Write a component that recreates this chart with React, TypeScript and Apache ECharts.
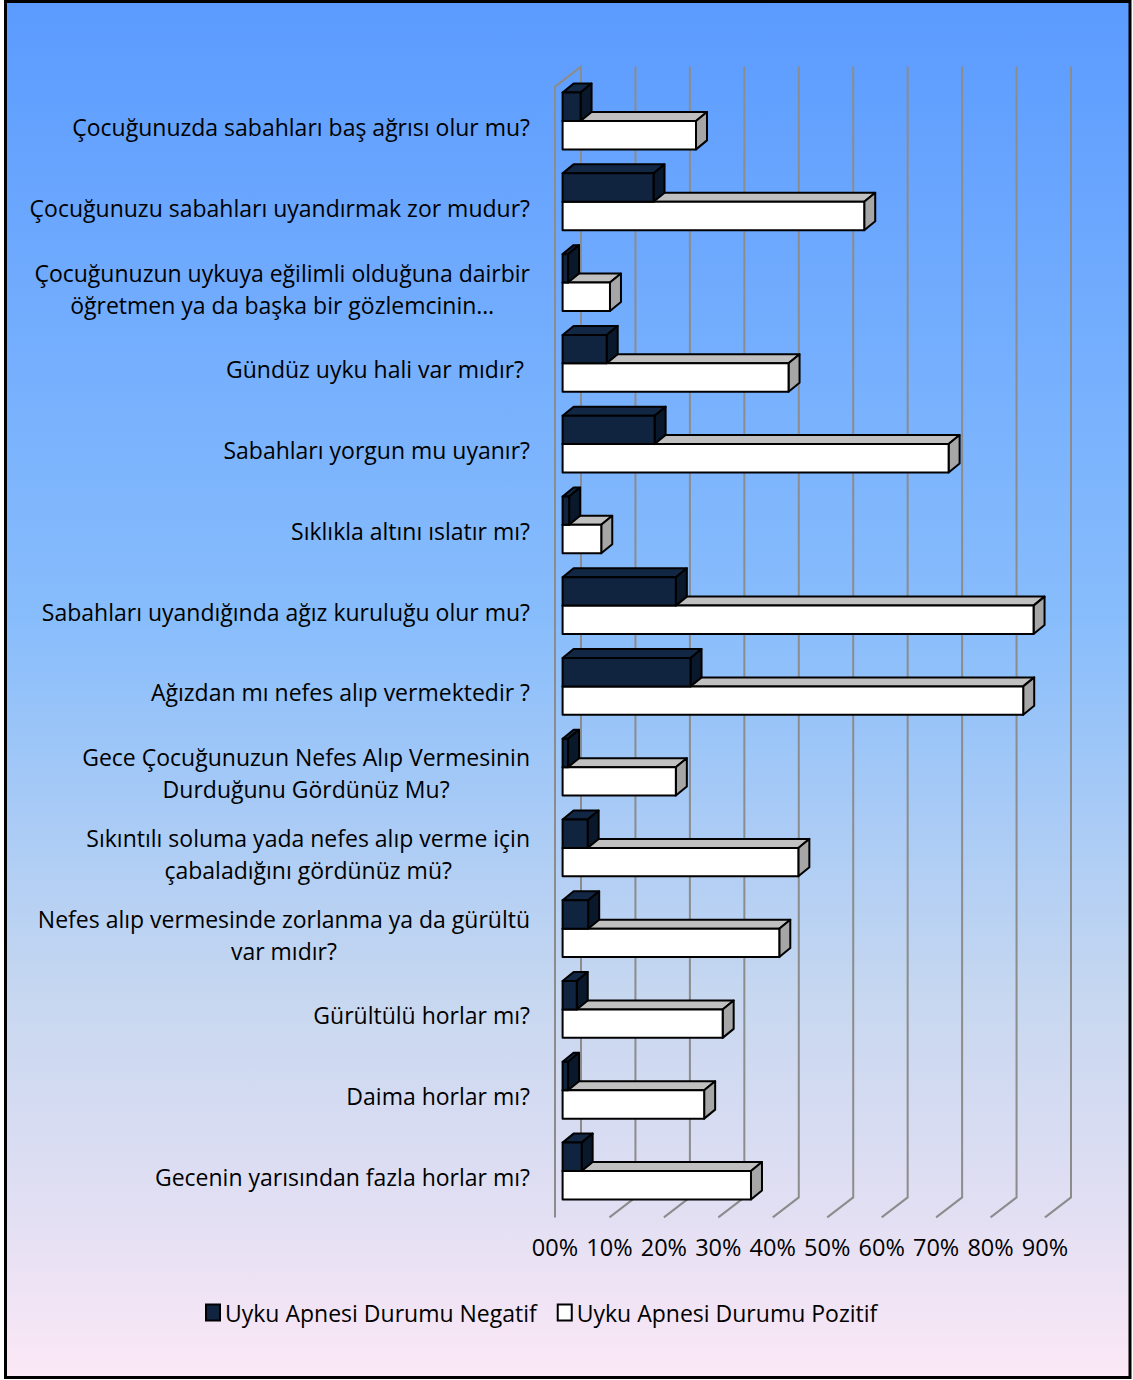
import React, { useEffect, useRef } from "react";
import * as echarts from "echarts";

const categories = [
  "Çocuğunuzda sabahları baş ağrısı olur mu?",
  "Çocuğunuzu sabahları uyandırmak zor mudur?",
  "Çocuğunuzun uykuya eğilimli olduğuna dairbir\nöğretmen ya da başka bir gözlemcinin…",
  "Gündüz uyku hali var mıdır? ",
  "Sabahları yorgun mu uyanır?",
  "Sıklıkla altını ıslatır mı?",
  "Sabahları uyandığında ağız kuruluğu olur mu?",
  "Ağızdan mı nefes alıp vermektedir ?",
  "Gece Çocuğunuzun Nefes Alıp Vermesinin\nDurduğunu Gördünüz Mu?",
  "Sıkıntılı soluma yada nefes alıp verme için\nçabaladığını gördünüz mü?",
  "Nefes alıp vermesinde zorlanma ya da gürültü\nvar mıdır?",
  "Gürültülü horlar mı?",
  "Daima horlar mı?",
  "Gecenin yarısından fazla horlar mı?",
];

const negatif = [3.3, 16.7, 1.0, 8.1, 16.9, 1.2, 20.8, 23.5, 1.0, 4.6, 4.7, 2.6, 1.0, 3.5];
const pozitif = [24.5, 55.4, 8.7, 41.5, 70.9, 7.1, 86.5, 84.6, 20.8, 43.3, 39.8, 29.4, 26.0, 34.6];
const xTicks = [0, 10, 20, 30, 40, 50, 60, 70, 80, 90];

const NEG_NAME = "Uyku Apnesi Durumu Negatif";
const POS_NAME = "Uyku Apnesi Durumu Pozitif";

const FONT = "Open Sans";
const WALL_DX = 26;
const WALL_DY = -20;
const BAR_DX = 11;
const BAR_DY = -9;
const BAR_SHIFT = 7.6;
const BAR_H = 28.4;

function barRenderer(kind: "neg" | "pos") {
  const front = kind === "neg" ? "#10233F" : "#FFFFFF";
  const topC = kind === "neg" ? "#122744" : "#C0C0C0";
  const side = kind === "neg" ? "#0A182C" : "#A6A6A6";
  return (params: any, api: any) => {
    const v = api.value(0);
    const idx = api.value(1);
    const p0 = api.coord([0, idx]);
    const p1 = api.coord([v, idx]);
    const x0 = p0[0] + BAR_SHIFT;
    const x1 = p1[0] + BAR_SHIFT;
    const mid = p0[1] - 6;
    const top = kind === "neg" ? mid - BAR_H : mid;
    const bot = top + BAR_H;
    const st = { stroke: "#000", lineWidth: 2, lineJoin: "round" };
    return {
      type: "group",
      children: [
        {
          type: "polygon",
          shape: { points: [[x0, top], [x0 + BAR_DX, top + BAR_DY], [x1 + BAR_DX, top + BAR_DY], [x1, top]] },
          style: { fill: topC, ...st },
        },
        {
          type: "polygon",
          shape: { points: [[x1, top], [x1 + BAR_DX, top + BAR_DY], [x1 + BAR_DX, bot + BAR_DY], [x1, bot]] },
          style: { fill: side, ...st },
        },
        {
          type: "rect",
          shape: { x: x0, y: top, width: x1 - x0, height: BAR_H },
          style: { fill: front, ...st },
        },
      ],
    };
  };
}

function wallRenderer(params: any, api: any) {
  const v = api.value(0);
  const cs = params.coordSys;
  const x = api.coord([v, 0])[0];
  const topY = cs.y;
  const botY = cs.y + cs.height;
  const st = { stroke: "#8C8C8C", lineWidth: 2, fill: "none" };
  if (v === 0) {
    return {
      type: "polyline",
      shape: { points: [[x, botY], [x, topY], [x + WALL_DX, topY + WALL_DY], [x + WALL_DX, botY + WALL_DY]] },
      style: st,
    };
  }
  return {
    type: "polyline",
    shape: { points: [[x, botY], [x + WALL_DX, botY + WALL_DY], [x + WALL_DX, topY + WALL_DY]] },
    style: st,
  };
}

export default function App() {
  const ref = useRef<HTMLDivElement>(null);
  useEffect(() => {
    document.body.style.margin = "0";
    const chart = echarts.init(ref.current!, undefined, { renderer: "svg" });
    const option: any = {
      animation: false,
      textStyle: { fontFamily: FONT },
      graphic: [
        {
          type: "rect",
          z: -10,
          silent: true,
          shape: { x: 5.5, y: 1.5, width: 1124.5, height: 1376 },
          style: {
            fill: new echarts.graphic.LinearGradient(0, 0, 0, 1, [
              { offset: 0, color: "#5B9BFF" },
              { offset: 0.45, color: "#88BDFC" },
              { offset: 0.72, color: "#C6D7F0" },
              { offset: 0.88, color: "#E2DFF3" },
              { offset: 1, color: "#FCE8F6" },
            ]),
            stroke: "#000",
            lineWidth: 3,
          },
        },
      ],
      grid: { left: 555, right: 88, top: 86.6, bottom: 162.6, containLabel: false },
      xAxis: {
        type: "value",
        min: 0,
        max: 90,
        interval: 10,
        axisLine: { show: false },
        axisTick: { show: false },
        splitLine: { show: false },
        axisLabel: {
          fontSize: 23.5,
          fontFamily: FONT,
          color: "#000",
          margin: 18,
          formatter: (v: number) => (v < 10 ? "0" : "") + v + "%",
        },
      },
      yAxis: {
        type: "category",
        inverse: true,
        data: categories,
        axisLine: { show: false },
        axisTick: { show: false },
        splitLine: { show: false },
        axisLabel: {
          fontSize: 23,
          fontFamily: FONT,
          color: "#000",
          margin: 25,
          align: "right",
          lineHeight: 32,
          interval: 0,
          formatter: (s: string) =>
            s
              .split("\n")
              .map((l) => "{c|" + l + "}")
              .join("\n"),
          rich: { c: { align: "center", fontSize: 23, fontFamily: FONT, color: "#000", lineHeight: 32 } },
        },
      },
      legend: {
        left: 200,
        top: 1296,
        itemWidth: 14,
        itemHeight: 16,
        itemGap: 20,
        textStyle: { fontSize: 23, fontFamily: FONT, color: "#000" },
        data: [
          { name: NEG_NAME, icon: "rect", itemStyle: { color: "#10233F", borderColor: "#000", borderWidth: 2 } },
          { name: POS_NAME, icon: "rect", itemStyle: { color: "#FFFFFF", borderColor: "#000", borderWidth: 2 } },
        ],
        selectedMode: false,
      },
      series: [
        {
          type: "custom",
          name: "walls",
          z: 1,
          silent: true,
          renderItem: wallRenderer,
          encode: { x: 0 },
          data: xTicks.map((t) => [t, 0]),
        },
        {
          type: "custom",
          name: POS_NAME,
          z: 2,
          itemStyle: { color: "#FFFFFF" },
          renderItem: barRenderer("pos"),
          encode: { x: 0, y: 1 },
          data: pozitif.map((v, i) => [v, i]),
        },
        {
          type: "custom",
          name: NEG_NAME,
          z: 3,
          itemStyle: { color: "#10233F" },
          renderItem: barRenderer("neg"),
          encode: { x: 0, y: 1 },
          data: negatif.map((v, i) => [v, i]),
        },
      ],
    };
    chart.setOption(option);
    return () => chart.dispose();
  }, []);
  return <div ref={ref} style={{ width: 1133, height: 1380 }} />;
}
